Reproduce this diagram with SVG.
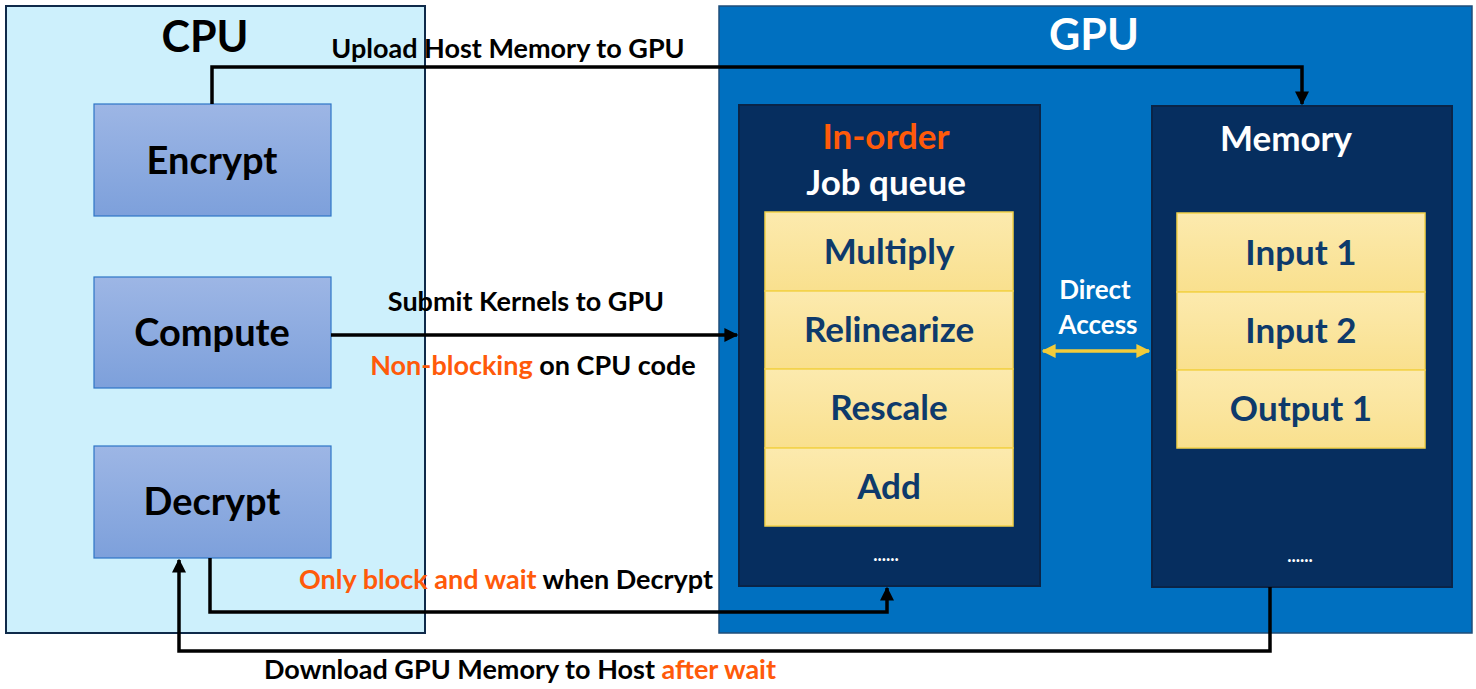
<svg xmlns="http://www.w3.org/2000/svg" width="1476" height="689" viewBox="0 0 1476 689">
<style>
text{font-family:Lato,"Open Sans","Liberation Sans",sans-serif;font-weight:bold;text-anchor:middle}
.title{font-size:43px}
.cpub{font-size:38px;fill:#000}
.lbl{font-size:27px;fill:#000}
.wt{fill:#fff}
.item{font-size:35px;fill:#0E3A6B}
.hd{font-size:35px;fill:#fff}
text.or,tspan.or{fill:#FF5A0A}
.cpubox{fill:url(#gBlue);stroke:#2E75C6;stroke-width:1.2}
.ibox{fill:url(#gYel);stroke:#F2D24A;stroke-width:1.5}
.inner{fill:#062E5F;stroke:#0A2447;stroke-width:2}
.conn{fill:none;stroke:#000;stroke-width:3.5}
</style>
<defs>
<linearGradient id="gBlue" x1="0" y1="0" x2="0" y2="1"><stop offset="0" stop-color="#9DB6E5"/><stop offset="1" stop-color="#7DA0DB"/></linearGradient>
<linearGradient id="gYel" x1="0" y1="0" x2="0" y2="1"><stop offset="0" stop-color="#FCEAAE"/><stop offset="1" stop-color="#F9E08E"/></linearGradient>
<marker id="arr" viewBox="0 0 10 10" refX="9" refY="5" markerWidth="4" markerHeight="4" orient="auto" markerUnits="strokeWidth"><path d="M0,0 L10,5 L0,10 z" fill="#000"/></marker>
<marker id="ya" viewBox="0 0 10 10" refX="9" refY="5" markerWidth="4" markerHeight="4" orient="auto-start-reverse" markerUnits="strokeWidth"><path d="M0,0 L10,5 L0,10 z" fill="#F2CC3A"/></marker>
</defs>

<g id="cpu">
<rect x="6" y="6" width="419" height="627" fill="#CDF0FC" stroke="#0F2A4A" stroke-width="2"/>
<text x="205" y="52" class="title">CPU</text>
</g>
<g id="gpu">
<rect x="719" y="6" width="753" height="627" fill="#0070C0" stroke="#1F4E79" stroke-width="1.5"/>
<text x="1094" y="50" class="title wt">GPU</text>
</g>

<g id="encrypt"><rect x="94" y="104" width="237" height="112" class="cpubox"/><text x="212" y="174" class="cpub">Encrypt</text></g>
<g id="compute"><rect x="94" y="277" width="237" height="111" class="cpubox"/><text x="212" y="346" class="cpub">Compute</text></g>
<g id="decrypt"><rect x="94" y="446" width="237" height="112" class="cpubox"/><text x="212" y="515" class="cpub">Decrypt</text></g>

<g id="jobqueue">
<rect x="739" y="105" width="301" height="481" class="inner"/>
<text x="886" y="149" class="hd or">In-order</text>
<text x="886" y="195" class="hd">Job queue</text>
<text x="886" y="561" font-size="18" class="wt">......</text>
</g>
<g id="multiply"><rect x="765" y="212" width="248" height="79" class="ibox"/><text x="889" y="264" class="item">Multiply</text></g>
<g id="relinearize"><rect x="765" y="291" width="248" height="78" class="ibox"/><text x="889" y="342" class="item">Relinearize</text></g>
<g id="rescale"><rect x="765" y="369" width="248" height="79" class="ibox"/><text x="889" y="420" class="item">Rescale</text></g>
<g id="add"><rect x="765" y="448" width="248" height="78" class="ibox"/><text x="889" y="499" class="item">Add</text></g>

<g id="memory">
<rect x="1152" y="106" width="300" height="481" class="inner"/>
<text x="1286" y="151" class="hd">Memory</text>
<text x="1300" y="562" font-size="18" class="wt">......</text>
</g>
<g id="input1"><rect x="1177" y="213" width="248" height="79" class="ibox"/><text x="1301" y="265" class="item">Input 1</text></g>
<g id="input2"><rect x="1177" y="292" width="248" height="78" class="ibox"/><text x="1301" y="343" class="item">Input 2</text></g>
<g id="output1"><rect x="1177" y="370" width="248" height="78" class="ibox"/><text x="1301" y="421" class="item">Output 1</text></g>

<g id="connectors">
<path class="conn" d="M212,104 V67 H1302 V104" marker-end="url(#arr)"/>
<path class="conn" d="M331,335 H737" marker-end="url(#arr)"/>
<path class="conn" d="M210,558 V612 H887 V588" marker-end="url(#arr)"/>
<path class="conn" d="M1270,587 V651 H179 V560" marker-end="url(#arr)"/>
<path d="M1043,351 H1149" fill="none" stroke="#F2CC3A" stroke-width="3.5" marker-start="url(#ya)" marker-end="url(#ya)"/>
<text x="508" y="58" class="lbl">Upload Host Memory to GPU</text>
<text x="526" y="311" class="lbl">Submit Kernels to GPU</text>
<text x="533" y="375" class="lbl"><tspan class="or">Non-blocking</tspan> on CPU code</text>
<text x="506" y="589" class="lbl"><tspan class="or">Only block and wait</tspan> when Decrypt</text>
<text x="520" y="679" class="lbl">Download GPU Memory to Host <tspan class="or">after wait</tspan></text>
<text x="1095" y="299" font-size="26" class="wt">Direct</text>
<text x="1098" y="334" font-size="26" class="wt">Access</text>
</g>
</svg>
